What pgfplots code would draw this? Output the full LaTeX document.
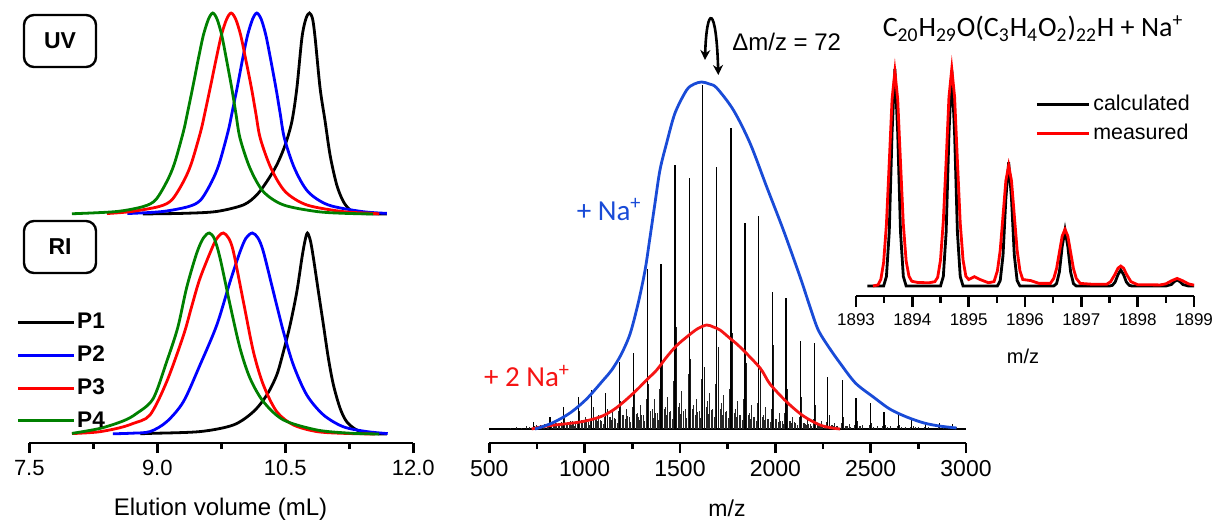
\documentclass[border=0pt]{standalone}
\usepackage{pgfplots}
\pgfplotsset{compat=1.18}
\usepackage{fontspec}
\setmainfont{Liberation Sans}
\newfontfamily\carlito{Carlito}
\usetikzlibrary{arrows.meta}
\definecolor{envblue}{RGB}{25,75,215}
\definecolor{pgreen}{RGB}{0,128,0}
\definecolor{envred}{RGB}{245,20,20}
\begin{document}
\begin{tikzpicture}
\useasboundingbox (0,0) rectangle (606.5pt,260.5pt);
\pgfplotsset{
  every axis/.append style={scale only axis, clip=false},
  xstyle/.style={axis x line*=bottom, axis y line=none, tick align=outside,
    x axis line style={line width=1.2pt},
    major tick style={line width=1.2pt, black},
    minor tick style={line width=1.2pt, black},
    major tick length=5pt, minor tick length=3pt},
  sec/.style={line width=1.4pt, smooth, tension=0.5},
}
% ---------------- UV ----------------
\begin{axis}[at={(14.65pt,148.5pt)}, anchor=south west, width=192pt, height=110.5pt,
  xmin=7.5, xmax=12, ymin=-0.05, ymax=1.05, hide axis]
\addplot[black, sec] coordinates {(8.83,0) (9.3,0.003) (9.69,0.012) (10.009,0.045) (10.166,0.095) (10.283,0.161) (10.4,0.244) (10.498,0.343) (10.577,0.46) (10.635,0.625) (10.694,0.874) (10.74,0.97) (10.783,1) (10.82,0.97) (10.85,0.874) (10.908,0.625) (10.967,0.46) (11.026,0.29) (11.103,0.144) (11.181,0.061) (11.26,0.02) (11.338,0.003) (11.69,0)};
\addplot[blue, sec] coordinates {(8.65,0.002) (9.059,0.012) (9.368,0.037) (9.509,0.07) (9.637,0.16) (9.725,0.25) (9.829,0.41) (9.874,0.5) (9.941,0.64) (9.999,0.77) (10.058,0.89) (10.117,0.97) (10.166,1) (10.217,0.97) (10.272,0.89) (10.328,0.77) (10.391,0.625) (10.44,0.5) (10.49,0.376) (10.608,0.227) (10.766,0.111) (11.003,0.045) (11.399,0.012) (11.69,0.003)};
\addplot[red, sec] coordinates {(8.41,0.002) (8.695,0.012) (9.021,0.037) (9.17,0.07) (9.305,0.16) (9.398,0.25) (9.508,0.41) (9.556,0.5) (9.626,0.64) (9.689,0.77) (9.751,0.89) (9.813,0.97) (9.865,1) (9.9185,0.97) (9.977,0.89) (10.036,0.77) (10.104,0.625) (10.155,0.5) (10.207,0.376) (10.333,0.227) (10.5,0.111) (10.751,0.045) (11.17,0.012) (11.525,0.003) (11.6,0)};
\addplot[pgreen, sec] coordinates {(8.0,0.001) (8.52,0.012) (8.836,0.037) (8.98,0.07) (9.11,0.16) (9.2,0.25) (9.306,0.41) (9.352,0.5) (9.42,0.64) (9.48,0.77) (9.54,0.89) (9.6,0.97) (9.65,1) (9.7,0.97) (9.755,0.89) (9.81,0.77) (9.873,0.625) (9.921,0.5) (9.97,0.376) (10.087,0.227) (10.243,0.111) (10.478,0.045) (10.87,0.012) (11.2,0.003) (11.53,0)};
\end{axis}
% ---------------- RI ----------------
\begin{axis}[at={(14.65pt,39pt)}, anchor=south west, width=192pt, height=110pt,
  xmin=7.5, xmax=12, ymin=-0.0448, ymax=1.0497, xstyle,
  xtick={7.5,9,10.5,12}, xticklabels={7.5,9.0,10.5,12.0},
  minor xtick={8.25,9.75,11.25},
  xticklabel style={font=\fontsize{11}{13}\selectfont},
  xlabel={Elution volume (mL)},
  xlabel style={at={(axis description cs:0.498,-0.30)}, anchor=center, font=\fontsize{12}{14}\selectfont},
  legend style={at={(-0.0346,0.6)}, anchor=north west, draw=none, fill=none, inner sep=0pt,
    row sep=5pt, font=\bfseries\fontsize{11.3}{13}\selectfont, nodes={inner sep=1pt}},
  legend image code/.code={\draw[#1, line width=1.4pt] (0pt,0pt) -- (28pt,0pt);},
  legend cell align=left]
\addplot[black, sec] coordinates {(8.8,0.001) (8.915,0.003) (9.5,0.012) (9.892,0.045) (10.126,0.111) (10.283,0.194) (10.4,0.294) (10.478,0.41) (10.556,0.542) (10.635,0.708) (10.694,0.874) (10.73,0.96) (10.759,1) (10.795,0.96) (10.83,0.874) (10.888,0.708) (10.947,0.542) (11.005,0.376) (11.064,0.244) (11.142,0.128) (11.22,0.061) (11.338,0.02) (11.494,0.003) (11.69,0)};
\addlegendentry{P1}
\addplot[blue, sec] coordinates {(8.48,0.001) (8.7,0.004) (8.915,0.012) (9.11,0.061) (9.306,0.161) (9.5,0.343) (9.697,0.542) (9.853,0.758) (9.97,0.907) (10.04,0.975) (10.114,1) (10.18,0.975) (10.243,0.907) (10.36,0.708) (10.478,0.509) (10.595,0.343) (10.752,0.194) (10.947,0.095) (11.18,0.036) (11.456,0.012) (11.7,0.002)};
\addlegendentry{P2}
\addplot[red, sec] coordinates {(8.0,0.002) (8.3,0.01) (8.55,0.03) (8.72,0.053) (8.915,0.095) (9.11,0.26) (9.306,0.49) (9.4,0.63) (9.5,0.774) (9.657,0.94) (9.72,0.985) (9.775,1) (9.835,0.975) (9.892,0.907) (10.009,0.658) (10.126,0.41) (10.243,0.244) (10.4,0.111) (10.595,0.045) (10.87,0.012) (11.2,0.003) (11.55,0)};
\addlegendentry{P3}
\addplot[pgreen, sec] coordinates {(8.0,0.003) (8.33,0.028) (8.6,0.065) (8.75,0.1) (8.95,0.175) (9.11,0.36) (9.24,0.53) (9.345,0.73) (9.462,0.9) (9.54,0.975) (9.61,1) (9.67,0.97) (9.736,0.874) (9.853,0.642) (9.97,0.426) (10.087,0.277) (10.243,0.161) (10.478,0.07) (10.87,0.02) (11.26,0.004) (11.6,0)};
\addlegendentry{P4}
\end{axis}
\node[draw, line width=1.2pt, rounded corners=5pt, minimum width=36pt, minimum height=26pt, inner sep=0pt, font=\bfseries\fontsize{11.5}{13}\selectfont] at (30pt,240pt) {UV};
\node[draw, line width=1.2pt, rounded corners=5pt, minimum width=36pt, minimum height=26pt, inner sep=0pt, font=\bfseries\fontsize{11.5}{13}\selectfont] at (30pt,137pt) {RI};
% ---------------- MS ----------------
\begin{axis}[at={(244.65pt,39pt)}, anchor=south west, width=238.35pt, height=217pt,
  xmin=500, xmax=3000, ymin=-14, ymax=420, xstyle,
  xtick={500,1000,1500,2000,2500,3000}, xticklabels={500,1000,1500,2000,2500,3000},
  minor xtick={750,1250,1750,2250,2750},
  xticklabel style={font=\fontsize{11.5}{13}\selectfont},
  xlabel={m/z},
  xlabel style={at={(axis description cs:0.4986,-0.150)}, anchor=center, font=\fontsize{11.5}{14}\selectfont}]
\addplot[black, line width=0.7pt] coordinates {(500,0) (3000,0)};
% small noise
\addplot[ycomb, black!85, line width=0.45pt] coordinates {(610,1) (640,2) (668,1) (695,3) (712,2) (748,4) (772,3) (790,5) (805,3) (848,6) (862,4) (878,7) (918,6) (935,8) (950,5) (985,9) (998,7) (1012,10) (1058,11) (1066,8) (1084,9) (1128,12) (1140,9) (1154,11) (1200,14) (1212,10) (1226,13) (1273,15) (1284,12) (1300,14) (1347,18) (1358,13) (1372,16) (1418,20) (1430,14) (1444,17) (1492,22) (1504,15) (1518,18) (1566,20) (1579,14) (1592,16) (1638,22) (1650,15) (1664,18) (1711,20) (1722,14) (1737,16) (1785,16) (1797,12) (1810,14) (1858,14) (1870,10) (1884,12) (1930,12) (1943,9) (1957,10) (2002,10) (2014,7) (2028,8) (2074,8) (2086,6) (2100,7) (2148,6) (2160,5) (2174,5) (2220,5) (2233,4) (2247,4) (2293,4) (2305,3) (2320,3) (2368,3) (2380,3) (2440,3) (2455,2) (2515,2) (2590,2) (2660,2) (2735,2) (2805,2) (2880,2) (2950,2)};
\addplot[ycomb, black!85, line width=0.45pt] coordinates {(836,3) (906,4) (985,6) (1055,7) (1128,8) (1200,10) (1273,11) (1347,13) (1418,15) (1492,17) (1567,16) (1638,18) (1711,16) (1785,14) (1859,12) (1931,10) (2002,8) (2074,6) (2149,5) (2222,4) (2293,3) (2369,3) (2441,2)};
\addplot[ycomb, black!85, line width=0.45pt] coordinates {(848,2) (918,3) (997,5) (1067,6) (1140,7) (1212,8) (1285,9) (1359,11) (1430,12) (1504,14) (1579,13) (1650,15) (1723,13) (1797,11) (1871,10) (1943,8) (2014,6) (2086,5) (2161,4) (2234,3) (2305,3)};
\addplot[ycomb, black!85, line width=0.45pt] coordinates {(862,3) (932,4) (1011,6) (1081,7) (1154,9) (1226,10) (1299,12) (1373,14) (1444,16) (1518,18) (1593,17) (1664,19) (1737,17) (1811,14) (1885,12) (1957,10) (2028,8) (2100,6) (2175,5) (2248,4) (2319,3) (2395,2)};
\addplot[ycomb, black!85, line width=0.45pt] coordinates {(878,2) (948,3) (1027,4) (1097,5) (1170,6) (1242,7) (1315,8) (1389,9) (1460,10) (1534,11) (1609,11) (1680,12) (1753,11) (1827,9) (1901,8) (1973,7) (2044,5) (2116,4) (2191,3) (2264,3)};
\addplot[ycomb, black!85, line width=0.45pt] coordinates {(754,3) (842,5) (912,6) (991,9) (1061,10) (1134,12) (1206,14) (1279,16) (1353,20) (1424,22) (1498,26) (1573,24) (1644,28) (1717,26) (1791,20) (1865,16) (1937,14) (2008,10) (2080,8) (2155,6) (2228,5) (2299,4) (2375,3) (2447,3)};
\addplot[ycomb, black!85, line width=0.45pt] coordinates {(782,2) (870,4) (940,5) (1019,7) (1089,8) (1162,10) (1234,12) (1307,14) (1381,16) (1452,18) (1526,20) (1601,18) (1672,20) (1745,18) (1819,14) (1893,12) (1965,10) (2036,8) (2108,6) (2183,5) (2256,4) (2327,3)};
\addplot[ycomb, black!85, line width=0.45pt] coordinates {(812,4) (882,6) (961,8) (1031,9) (1104,12) (1176,18) (1249,22) (1323,30) (1394,40) (1468,48) (1543,55) (1614,50) (1687,45) (1761,40) (1835,30) (1907,26) (1978,20) (2050,16) (2125,12) (2198,10) (2269,7) (2345,6) (2417,4) (2491,4) (2564,3) (2639,3) (2709,2) (2783,2) (2854,2) (2924,2)};
\addplot[ycomb, black!85, line width=0.45pt] coordinates {(766,4) (854,6) (924,8) (1003,12) (1073,14) (1146,18) (1218,20) (1291,24) (1365,30) (1436,32) (1510,38) (1585,30) (1656,36) (1729,34) (1803,28) (1877,24) (1949,22) (2020,16) (2092,12) (2167,10) (2240,8) (2311,6) (2387,5) (2459,4) (2533,3) (2606,3) (2681,2) (2751,2)};
% secondary series
\addplot[ycomb, black!90, line width=0.5pt] coordinates {(738,3) (826,6) (896,12) (975,18) (1045,22) (1118,20) (1190,28) (1263,36) (1337,45) (1410,66) (1482,102) (1557,70) (1630,62) (1701,82) (1776,96) (1849,66) (1921,60) (1992,84) (2064,40) (2139,32) (2212,24) (2283,14) (2359,12) (2431,8) (2505,6) (2578,4) (2653,4) (2723,3)};
% main series
\addplot[ycomb, black, line width=0.6pt] coordinates {(730,7) (818,12) (888,22) (967,32) (1037,39) (1110,36) (1182,67) (1255,76) (1329,160) (1400,165) (1474,264) (1549,251) (1620,344) (1693,262) (1767,301) (1841,206) (1913,213) (1984,137) (2056,131) (2131,88) (2204,86) (2275,52) (2351,49) (2423,31) (2497,26) (2570,17) (2645,14) (2715,9) (2789,7) (2860,6) (2930,5)};
% envelopes
\addplot[envred, sec] coordinates {(722,0) (800,3) (976,7) (1080,12) (1150,19) (1210,28) (1273,39) (1330,50) (1378,59) (1430,72) (1480,83) (1535,92) (1590,100) (1640,104) (1675,102) (1710,99) (1760,91) (1815,82) (1920,61) (1972,45) (2060,27) (2147,13) (2234,4) (2300,1) (2340,0)};
\addplot[envblue, sec] coordinates {(740,0) (830,6) (923,16) (1010,30) (1098,49) (1142,59) (1190,74) (1238,95) (1281,126) (1317,159) (1343,192) (1369,226) (1395,259) (1430,286) (1474,316) (1535,339) (1575,345) (1614,347) (1655,345) (1693,341) (1780,319) (1867,286) (1955,242) (2042,199) (2130,152) (2182,122) (2225,99) (2280,82) (2339,66) (2420,46) (2514,32) (2600,20) (2689,12) (2780,6) (2860,3) (2950,1)};
\draw[line width=1.3pt, {Stealth[length=5pt,width=5pt]}-{Stealth[length=5pt,width=5pt]}] (axis cs:1631,369) .. controls (axis cs:1640,425) and (axis cs:1690,425) .. (axis cs:1701,354);
\end{axis}
\node[anchor=base, font=\fontsize{12}{14}\selectfont] at (393.35pt,235.5pt) {Δm/z = 72};
\node[anchor=base, text=envblue, font=\carlito\fontsize{14.5}{16}\selectfont] at (304.6pt,150.5pt) {+ Na\textsuperscript{+}};
\node[anchor=base, text=envred, font=\carlito\fontsize{14.5}{16}\selectfont] at (263.5pt,67.15pt) {+ 2 Na\textsuperscript{+}};
\node[anchor=base, font=\carlito\fontsize{14}{16}\selectfont] at (516.5pt,242.15pt) {C\textsubscript{20}H\textsubscript{29}O(C\textsubscript{3}H\textsubscript{4}O\textsubscript{2})\textsubscript{22}H + Na\textsuperscript{+}};
% ---------------- inset ----------------
\begin{axis}[at={(428pt,112.65pt)}, anchor=south west, width=169pt, height=118.8pt,
  xmin=1893, xmax=1899, ymin=-0.0447, ymax=1.05, xstyle,
  major tick length=5.5pt, minor tick length=3.5pt,
  xtick={1893,1894,1895,1896,1897,1898,1899}, xticklabels={1893,1894,1895,1896,1897,1898,1899},
  minor xtick={1893.5,1894.5,1895.5,1896.5,1897.5,1898.5},
  xticklabel style={font=\fontsize{8.5}{10}\selectfont},
  xlabel={m/z},
  xlabel style={at={(axis description cs:0.494,-0.254)}, anchor=center, font=\fontsize{10}{12}\selectfont},
  legend style={at={(0.53,0.857)}, anchor=north west, draw=none, fill=none, inner sep=0pt,
    row sep=2pt, font=\fontsize{10.7}{12}\selectfont, nodes={inner sep=1.5pt}},
  legend image code/.code={\draw[#1, line width=1.4pt] (0pt,0pt) -- (26pt,0pt);},
  legend cell align=left]
\addplot[black, line width=1.4pt] coordinates {(1893.2,0) (1893.49,0) (1893.54,0.044) (1893.59,0.249) (1893.64,0.707) (1893.69,1) (1893.74,0.707) (1893.79,0.249) (1893.84,0.044) (1893.89,0) (1894.50,0) (1894.55,0.044) (1894.60,0.248) (1894.65,0.703) (1894.70,0.995) (1894.75,0.703) (1894.80,0.248) (1894.85,0.044) (1894.90,0) (1895.51,0) (1895.56,0.025) (1895.61,0.142) (1895.66,0.403) (1895.71,0.57) (1895.76,0.403) (1895.81,0.142) (1895.86,0.025) (1895.91,0) (1896.51,0) (1896.56,0.011) (1896.61,0.064) (1896.66,0.182) (1896.71,0.258) (1896.76,0.182) (1896.81,0.064) (1896.86,0.011) (1896.91,0) (1897.50,0) (1897.55,0.003) (1897.60,0.018) (1897.65,0.052) (1897.70,0.074) (1897.75,0.052) (1897.80,0.018) (1897.85,0.003) (1897.90,0) (1898.50,0) (1898.6,0.007) (1898.65,0.020) (1898.70,0.028) (1898.75,0.020) (1898.8,0.007) (1898.9,0) (1899,0)};
\addlegendentry{calculated}
\addplot[red, line width=1.4pt] coordinates {(1893.3,0) (1893.39,0.005) (1893.44,0.03) (1893.49,0.108) (1893.54,0.284) (1893.59,0.568) (1893.64,0.861) (1893.69,0.988) (1893.74,0.861) (1893.79,0.568) (1893.84,0.284) (1893.89,0.115) (1893.94,0.045) (1893.99,0.022) (1894.1,0.016) (1894.3,0.015) (1894.4,0.02) (1894.45,0.04) (1894.50,0.12) (1894.55,0.3) (1894.60,0.575) (1894.65,0.871) (1894.70,1.0) (1894.75,0.871) (1894.80,0.575) (1894.85,0.29) (1894.90,0.12) (1894.95,0.045) (1895.0,0.03) (1895.1,0.043) (1895.2,0.03) (1895.35,0.015) (1895.45,0.02) (1895.51,0.07) (1895.56,0.165) (1895.61,0.325) (1895.66,0.485) (1895.71,0.555) (1895.76,0.485) (1895.81,0.325) (1895.86,0.165) (1895.91,0.07) (1895.96,0.03) (1896.1,0.025) (1896.25,0.012) (1896.45,0.012) (1896.51,0.035) (1896.56,0.08) (1896.61,0.155) (1896.66,0.23) (1896.71,0.261) (1896.76,0.23) (1896.81,0.155) (1896.86,0.08) (1896.91,0.035) (1896.98,0.012) (1897.2,0.008) (1897.45,0.008) (1897.52,0.02) (1897.6,0.055) (1897.65,0.082) (1897.7,0.092) (1897.75,0.082) (1897.8,0.055) (1897.88,0.02) (1898.0,0.006) (1898.4,0.005) (1898.5,0.01) (1898.6,0.024) (1898.7,0.035) (1898.8,0.024) (1898.9,0.01) (1899.0,0.004)};
\addlegendentry{measured}
\end{axis}
\end{tikzpicture}
\end{document}
